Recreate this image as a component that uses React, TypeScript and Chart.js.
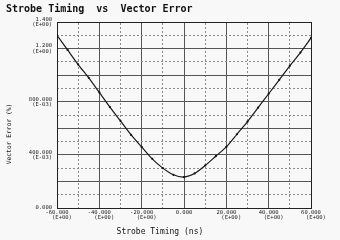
import React, { useEffect, useRef } from "react";
import { Chart, registerables } from "chart.js";
Chart.register(...registerables);

const xValues = [-60, -55, -50, -45, -40, -35, -30, -25, -20, -15, -10, -5, 0, 5, 10, 15, 20, 25, 30, 35, 40, 45, 50, 55, 60];
const yValues = [1.3, 1.19, 1.08, 0.98, 0.87, 0.76, 0.655, 0.55, 0.46, 0.37, 0.3, 0.25, 0.233, 0.26, 0.32, 0.39, 0.46, 0.555, 0.65, 0.755, 0.86, 0.965, 1.07, 1.17, 1.28];

const xTickValues = [-60, -40, -20, 0, 20, 40, 60];
const xTickLabels = [
  ["-60.000", "   (E+00)"],
  ["-40.000", "   (E+00)"],
  ["-20.000", "   (E+00)"],
  ["0.000"],
  ["20.000", "   (E+00)"],
  ["40.000", "   (E+00)"],
  ["60.000", "   (E+00)"],
];
const yTickValues = [0, 0.4, 0.8, 1.2, 1.4];
const yTickLabels = [
  ["0.000"],
  ["400.000", "(E-03)"],
  ["800.000", "(E-03)"],
  ["1.200", "(E+00)"],
  ["1.400", "(E+00)"],
];

const chartTitle = "Strobe Timing  vs  Vector Error";
const xTitle = "Strobe Timing (ns)";
const yTitle = "Vector Error (%)";

const MONO = "'DejaVu Sans Mono', monospace";

function findLabel(values: number[], labels: string[][], v: number) {
  const i = values.findIndex((t) => Math.abs(t - v) < 1e-6);
  return i >= 0 ? labels[i] : "";
}

function isMultiple(v: number, step: number) {
  const r = v / step;
  return Math.abs(r - Math.round(r)) < 1e-6;
}

export default function App() {
  const ref = useRef<HTMLCanvasElement>(null);
  useEffect(() => {
    const chart = new Chart(ref.current!, {
      type: "line",
      data: {
        datasets: [
          {
            data: xValues.map((x, i) => ({ x, y: yValues[i] })),
            borderColor: "#1a1a1a",
            borderWidth: 1.2,
            pointRadius: 1.1,
            pointBackgroundColor: "#111",
            pointBorderWidth: 0,
            tension: 0.25,
            xAxisID: "x",
            yAxisID: "y",
          },
        ],
      },
      options: {
        animation: false,
        responsive: false,
        layout: { padding: { left: 6, right: 29, top: 0, bottom: 0 } },
        plugins: {
          legend: { display: false },
          tooltip: { enabled: false },
          title: {
            display: true,
            text: chartTitle,
            align: "start",
            color: "#111",
            font: { family: MONO, size: 10, lineHeight: 1.2 },
            padding: { top: 3, bottom: 7 },
          },
        },
        scales: {
          x: {
            type: "linear",
            position: "bottom",
            min: -60,
            max: 60,
            afterFit: (s: any) => {
              s.height = 32;
            },
            ticks: {
              stepSize: 20,
              autoSkip: false,
              maxRotation: 0,
              padding: 2,
              color: "#222",
              font: { family: MONO, size: 5.5, lineHeight: 0.95 },
              callback: (v: any) => findLabel(xTickValues, xTickLabels, Number(v)),
            },
            grid: { color: "#555", lineWidth: 1, drawTicks: false },
            border: { color: "#222", width: 1 },
            title: {
              display: true,
              text: xTitle + "          ",
              color: "#111",
              font: { family: MONO, size: 8, lineHeight: 1.2 },
              padding: { top: 0, bottom: 3 },
            },
          },
          x2: {
            type: "linear",
            position: "top",
            min: -60,
            max: 60,
            afterFit: (s: any) => {
              s.height = 0;
            },
            ticks: { stepSize: 10, display: false },
            grid: {
              color: (c: any) => (isMultiple(c.tick.value, 20) ? "rgba(0,0,0,0)" : "#8a8a8a"),
              lineWidth: 1,
              drawTicks: false,
            },
            border: { color: "#222", width: 1, dash: [2, 2] },
          },
          y: {
            type: "linear",
            position: "left",
            min: 0,
            max: 1.4,
            afterFit: (s: any) => {
              s.width = 51;
            },
            ticks: {
              stepSize: 0.2,
              autoSkip: false,
              padding: 5,
              color: "#222",
              font: { family: MONO, size: 5.5, lineHeight: 0.95 },
              callback: (v: any) => findLabel(yTickValues, yTickLabels, Number(v)),
            },
            grid: { color: "#555", lineWidth: 1, drawTicks: false },
            border: { color: "#222", width: 1 },
            title: {
              display: true,
              text: yTitle + "          ",
              color: "#111",
              font: { family: MONO, size: 6.3, lineHeight: 1.2 },
              padding: 0,
            },
          },
          y2: {
            type: "linear",
            position: "right",
            min: 0,
            max: 1.4,
            afterFit: (s: any) => {
              s.width = 0;
            },
            ticks: { stepSize: 0.1, display: false },
            grid: {
              color: (c: any) => (isMultiple(c.tick.value, 0.2) ? "rgba(0,0,0,0)" : "#8a8a8a"),
              lineWidth: 1,
              drawTicks: false,
            },
            border: { color: "#222", width: 1, dash: [2, 2] },
          },
        },
      } as any,
    });
    return () => chart.destroy();
  }, []);
  return (
    <div style={{ position: "fixed", left: 0, top: 0, width: 340, height: 240, background: "#f8f8f8" }}>
      <canvas ref={ref} width={340} height={240} style={{ display: "block" }} />
    </div>
  );
}
